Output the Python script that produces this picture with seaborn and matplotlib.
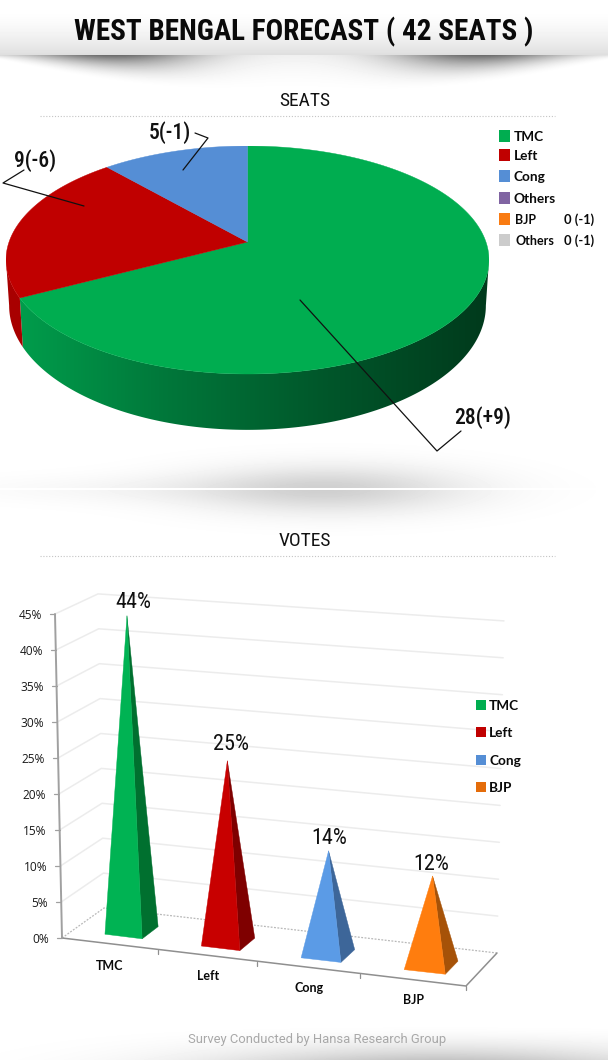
import numpy as np
import pandas as pd
import matplotlib
matplotlib.use("Agg")
import matplotlib.pyplot as plt
from matplotlib import font_manager as fm
import seaborn as sns

# ---------- data ----------
seat_parties = ["TMC", "Left", "Cong"]
seat_values = [28, 9, 5]
seat_labels = ["28(+9)", "9(-6)", "5(-1)"]
seat_colors = ["#00AD50", "#C00000", "#558ED5"]

legend_top = ["TMC", "Left", "Cong", "Others", "BJP", "Others"]
legend_top_notes = ["", "", "", "", "0 (-1)", "0 (-1)"]
legend_top_colors = ["#00AD50", "#C00000", "#558ED5", "#8064A2", "#F97B12", "#CCCCCC"]

vote_parties = ["TMC", "Left", "Cong", "BJP"]
vote_values = [44, 25, 14, 12]
vote_front = ["#00B353", "#C80000", "#5B9BE6", "#FF7D0E"]
vote_side = ["#00702F", "#7F0000", "#3D6699", "#A65208"]
vote_legend_colors = ["#00AD50", "#C00000", "#558ED5", "#E46C0A"]
vote_ticks = [0, 5, 10, 15, 20, 25, 30, 35, 40, 45]

# ---------- theme ----------
sns.set_theme(style="white")
W, H = 608, 1060
installed = {f.name for f in fm.fontManager.ttflist}
NARROW = [next(n for n in ("Roboto Condensed", "Barlow Condensed", "Asap Condensed", "DejaVu Sans")
               if n in installed)]
plt.rcParams["font.family"] = ["Lato", "DejaVu Sans"]
fig = plt.figure(figsize=(W / 100, H / 100), dpi=100, facecolor="white")


def px_axes(zorder):
    ax = fig.add_axes([0, 0, 1, 1], zorder=zorder)
    ax.set_axis_off()
    ax.patch.set_alpha(0)
    return ax


# ---------- background shading ----------
bg = px_axes(0)
yy, xx = np.mgrid[0:H, 0:W].astype(float)
shade = np.zeros((H, W))
# header band
top = 0.13 * np.clip((yy - 8) / 47, 0, 1) ** 1.6 * (yy < 55)
shade += top * np.clip(1.1 - 0.1 * np.abs(xx - 304) / 304, 0, 1)
# shadow under the header
amp = 0.05 + 0.52 * (np.exp(-((xx - 112) / 85) ** 2) + np.exp(-((xx - 478) / 85) ** 2))
depth = 5 + 36 * (1 - ((xx - 304) / 304) ** 2)
rel = np.clip((yy - 55) / depth, 0, 1)
shade += amp * (1 - rel) ** 2.0 * (yy >= 55)
# shadow around the divider
shade += 0.17 * np.exp(-((xx - 330) / 135) ** 2 - ((yy - 489) / 24) ** 2)
shade += 0.035 * np.exp(-((xx - 170) / 200) ** 2 - ((yy - 489) / 14) ** 2)
shade[488:490, :] = 0
# bottom glow
shade += 0.24 * np.exp(-((xx - 440) / 230) ** 2) * np.clip((yy - 1022) / 38, 0, 1) ** 2
bg.imshow(1 - shade, cmap="gray", vmin=0, vmax=1, extent=(0, W, H, 0), aspect="auto",
          interpolation="bilinear")
bg.set_xlim(0, W)
bg.set_ylim(H, 0)

# ---------- seats: pie in perspective ----------
P_L, P_R, P_T, P_B, P_LOW = 6, 489, 146, 374, 430
pie = fig.add_axes([P_L / W, 1 - P_LOW / H, (P_R - P_L) / W, (P_LOW - P_T) / H], zorder=1)
pie.set_axis_off()
pie.patch.set_alpha(0)
y_low = -1 - 2 * (P_LOW - P_B) / (P_B - P_T)
TILT = 0.20    # perspective of the rim
APEX_Y = 0.158  # the apex sits above the centre of the ellipse


def rim(theta):
    """Clockwise angle from the top of the pie -> point on the tilted ellipse."""
    x, y = np.sin(theta), np.cos(theta)
    d = 1 + TILT * y
    return x * np.sqrt(1 - TILT ** 2) / d, (y + TILT) / d


edges = np.cumsum([0] + seat_values) / sum(seat_values) * 2 * np.pi
LOW_RX, LOW_CY, LOW_RY = 0.987, -0.40, 1.09


def side_poly(phi1, phi2):
    phi = np.linspace(phi1, phi2, 200)
    xt, yt = np.cos(phi), np.sin(phi)
    xb, yb = LOW_RX * xt, LOW_CY + LOW_RY * yt
    return np.r_[xt, xb[::-1]], np.r_[yt, yb[::-1]]


bx, by = rim(edges[1])  # TMC / Left boundary on the rim
phi_b = np.arctan2(by, bx) % (2 * np.pi)

green_cmap = sns.blend_palette(["#00A04D", "#00773A", "#00562A", "#003A1C"], as_cmap=True)
grad = np.linspace(0, 1, 512)[None, :]
x_g, y_g = side_poly(phi_b, 2 * np.pi)
outline, = pie.fill(x_g, y_g, color="none", lw=0)
im = pie.imshow(grad, cmap=green_cmap, extent=(-1, 1, y_low, 1), aspect="auto", zorder=1)
im.set_clip_path(outline)
x_r, y_r = side_poly(np.pi, phi_b)
pie.fill(x_r, y_r, color="#A80000", lw=0, zorder=1)

for i, col in enumerate(seat_colors):
    th = np.linspace(edges[i], edges[i + 1], 300)
    rx, ry = rim(th)
    pie.fill(np.r_[0.0, rx], np.r_[APEX_Y, ry], color=col, lw=0.3, zorder=2)
pie.set_xlim(-1, 1)
pie.set_ylim(y_low, 1)

# ---------- overlay in pixel coordinates ----------
ov = px_axes(3)
ov.text(304, 32, "WEST BENGAL FORECAST ( 42 SEATS )", family=NARROW, weight="bold",
        fontsize=21, ha="center", va="center", color="#0a0a0a")
for label, y in (("SEATS", 100.5), ("VOTES", 540.5)):
    ov.text(304.5, y, label, family=NARROW, fontsize=14, ha="center", va="center", color="#111111")
for y in (116, 556):
    ov.plot([40, 555], [y, y], color="#c4c4c4", lw=0.8, ls=(0, (1, 1.6)))

# leader lines and pie labels
leaders = [[(300, 300), (437, 451), (461, 431)],
           [(84, 206), (3, 183), (24, 170)],
           [(183, 170), (208, 138), (195, 133)]]
label_pos = [(483, 417.5), (35, 160.5), (170, 132.5)]
for pts, pos, lab in zip(leaders, label_pos, seat_labels):
    ov.plot(*zip(*pts), color="#111111", lw=0.9)
    ov.text(*pos, lab, family=NARROW, weight="medium", fontsize=15.6, ha="center", va="center",
            color="#111111")

# pie legend
leg_y = [136, 155, 176, 198, 219, 240]
leg_df = pd.DataFrame({"x": [504.5] * 6, "y": leg_y, "k": [str(i) for i in range(6)]})
sns.scatterplot(data=leg_df, x="x", y="y", hue="k", palette=legend_top_colors, marker="s",
                s=70, linewidth=0, legend=False, ax=ov, zorder=6)
for i, (name, note, y) in enumerate(zip(legend_top, legend_top_notes, leg_y)):
    small = i >= 4
    ov.text(515 if small else 514, y + 0.8, name, weight="bold", fontsize=9.0 if small else 9.8,
            va="center", color="#0a0a0a")
    if note:
        ov.text(564, y + 0.8, note, weight="bold", fontsize=9.3, va="center", color="#0a0a0a")


# ---------- votes: pyramids on an oblique floor ----------
def floor(u, v):
    """Floor position: u along the category axis, v into the depth."""
    u, v = np.asarray(u, float), np.asarray(v, float)
    x = 62 + 94.33 * u + 1.667 * u ** 2 + v * (42 - 2.75 * u)
    y = 938 + 12 * u + v * (-30 - 0.75 * u)
    return x, y


def project(u, v, h):
    x, y = floor(u, v)
    tilt = (-7 + 3.5 * np.asarray(u) + np.asarray(v) * (1 - 0.25 * np.asarray(u))) / 45
    scale = 7.2 - 0.22 * np.asarray(v) + 0.1 * np.asarray(u)
    return x + tilt * h, y - scale * h


n = len(vote_parties)
# gridlines
rows = []
for t in vote_ticks[1:]:
    for u, v in ((0, 0), (0, 1), (n, 1)):
        px, py = project(u, v, t)
        rows.append({"level": t, "px": float(px), "py": float(py)})
sns.lineplot(data=pd.DataFrame(rows), x="px", y="py", units="level", estimator=None, sort=False,
             color="#ececec", lw=1.1, legend=False, ax=ov)
# floor
fl_pts = [project(0, 0, 0), project(0, 1, 0), project(n, 1, 0)]
ov.plot(*zip(*fl_pts), color="#b8b8b8", lw=0.9, ls=(0, (1.5, 1.2)))
ov.plot(*zip(project(0, 0, 0), project(n, 0, 0), project(n, 1, 0)), color="#8f8f8f", lw=1.1)
# value axis
ov.plot(*zip(project(0, 0, 0), project(0, 0, vote_ticks[-1])), color="#a0a0a0", lw=1.4)
for t in vote_ticks:
    px, py = project(0, 0, t)
    ov.plot([px - 5, px], [py, py], color="#a0a0a0", lw=0.9)
    ov.text(px - 13, py + 1.2, f"{t}%", family="Open Sans", fontsize=8.6, ha="right", va="center",
            color="#1a1a1a")
# category ticks
for u in range(1, n + 1):
    px, py = project(u, 0, 0)
    ov.plot([px, px], [py, py + 4], color="#8f8f8f", lw=0.9)

OFFSET, HALF, V1, V2 = 0.535, 0.195, 0.26, 0.66
label_xy = [(133, 602), (231, 745), (329, 838), (431, 865)]
cat_xy = [(110, 965.5), (208.5, 976.5), (309, 988.5), (413.5, 999.5)]
for i, val in enumerate(vote_values):
    c = i + OFFSET
    fl = floor(c - HALF, V1)
    fr = floor(c + HALF, V1)
    br = floor(c + HALF, V2)
    apex = project(c, (V1 + V2) / 2, val)
    ov.fill(*zip(fr, br, apex), color=vote_side[i], lw=0.3, zorder=4)
    ov.fill(*zip(fl, fr, apex), color=vote_front[i], lw=0.3, zorder=5)
    ov.text(*label_xy[i], f"{val}%", family=NARROW, fontsize=16, ha="center", va="center",
            color="#111111")
    ov.text(*cat_xy[i], vote_parties[i], weight="bold", fontsize=9.0, ha="center", va="center",
            color="#0a0a0a")

# votes legend
leg2_y = [705, 732, 760, 787]
leg2_df = pd.DataFrame({"x": [481] * 4, "y": leg2_y, "k": vote_parties})
sns.scatterplot(data=leg2_df, x="x", y="y", hue="k", palette=vote_legend_colors, marker="s",
                s=60, linewidth=0, legend=False, ax=ov, zorder=6)
for name, y in zip(vote_parties, leg2_y):
    ov.text(489, y + 0.8, name, weight="bold", fontsize=9.8, va="center", color="#0a0a0a")

ov.text(317, 1039.5, "Survey Conducted by Hansa Research Group", family="Roboto", fontsize=9.4,
        ha="center", va="center", color="#a8a8a8")

ov.set_xlim(0, W)
ov.set_ylim(H, 0)
ov.set_xlabel("")
ov.set_ylabel("")

fig.savefig("out.png", dpi=100, facecolor="white")
